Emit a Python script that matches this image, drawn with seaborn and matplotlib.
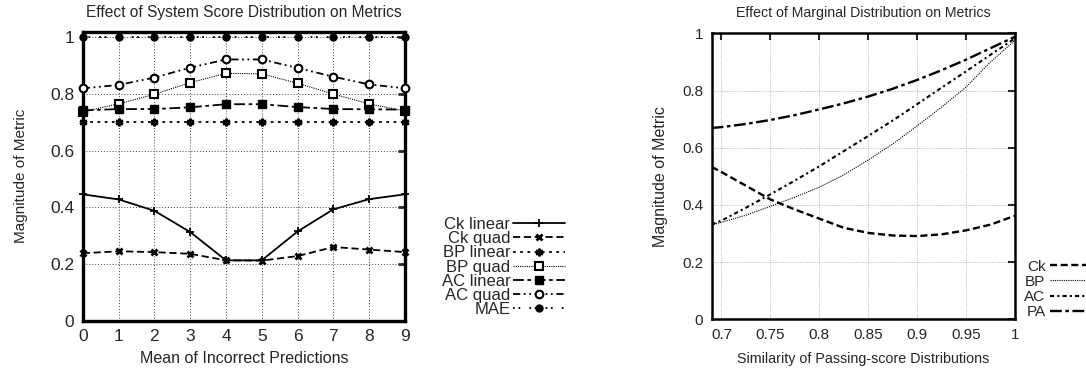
import numpy as np
import pandas as pd
import matplotlib
matplotlib.use("Agg")
import matplotlib.pyplot as plt
import seaborn as sns

# left panel: effect of system score distribution
x_mean = [0, 1, 2, 3, 4, 5, 6, 7, 8, 9]
ck_linear = [0.446, 0.428, 0.388, 0.313, 0.213, 0.213, 0.315, 0.393, 0.429, 0.446]
ck_quad = [0.238, 0.245, 0.242, 0.236, 0.213, 0.212, 0.228, 0.260, 0.251, 0.242]
bp_linear = [0.70, 0.70, 0.70, 0.70, 0.70, 0.70, 0.70, 0.70, 0.70, 0.70]
bp_quad = [0.738, 0.765, 0.799, 0.840, 0.873, 0.871, 0.838, 0.800, 0.765, 0.740]
ac_linear = [0.742, 0.747, 0.747, 0.753, 0.764, 0.764, 0.754, 0.747, 0.746, 0.745]
ac_quad = [0.820, 0.832, 0.858, 0.893, 0.922, 0.922, 0.892, 0.861, 0.834, 0.820]
mae = [1.0, 1.0, 1.0, 1.0, 1.0, 1.0, 1.0, 1.0, 1.0, 1.0]

# right panel: effect of marginal distribution
sim = [0.69, 0.70, 0.725, 0.75, 0.775, 0.80, 0.825, 0.85, 0.875, 0.90, 0.925, 0.95, 0.975, 1.0]
ck = [0.533, 0.515, 0.467, 0.419, 0.384, 0.352, 0.320, 0.302, 0.293, 0.291, 0.297, 0.311, 0.331, 0.362]
bp = [0.330, 0.339, 0.364, 0.395, 0.427, 0.462, 0.505, 0.557, 0.613, 0.676, 0.742, 0.812, 0.900, 0.975]
ac = [0.332, 0.345, 0.390, 0.437, 0.485, 0.535, 0.588, 0.641, 0.695, 0.752, 0.810, 0.867, 0.925, 0.982]
pa = [0.669, 0.672, 0.683, 0.697, 0.714, 0.734, 0.755, 0.779, 0.806, 0.837, 0.871, 0.908, 0.948, 0.988]

sns.set_style("white")
plt.rcParams['font.family'] = ['Liberation Sans', 'DejaVu Sans']

fig = plt.figure(figsize=(10.86, 3.71), dpi=100)
ax1 = fig.add_axes([0.0762, 0.1356, 0.2967, 0.7790])
ax2 = fig.add_axes([0.6553, 0.1394, 0.2793, 0.7708])

left_series = [
    ("Ck linear", ck_linear, dict(linestyle='-', lw=1.3, marker='+', ms=6, mew=1.3, mfc='black')),
    ("Ck quad", ck_quad, dict(linestyle=(0, (4, 2)), lw=1.3, marker='x', ms=4.5, mew=2, mfc='black')),
    ("BP linear", bp_linear, dict(linestyle=(0, (1.5, 2.5)), lw=1.3, marker=(6, 2, 0), ms=5.5, mew=1.8, mfc='black')),
    ("BP quad", bp_quad, dict(linestyle=(0, (1, 1)), lw=0.8, marker='s', ms=5.5, mew=1.5, mfc='white')),
    ("AC linear", ac_linear, dict(linestyle=(0, (6, 2, 2, 2)), lw=1.3, marker='s', ms=5.5, mew=1, mfc='black')),
    ("AC quad", ac_quad, dict(linestyle=(0, (4, 2, 1, 2, 1, 2)), lw=1.3, marker='o', ms=5.5, mew=1.5, mfc='white')),
    ("MAE", mae, dict(linestyle=(0, (1, 2, 1, 5)), lw=1.3, marker='o', ms=5, mew=1, mfc='black')),
]
for name, vals, kw in left_series:
    sns.lineplot(x=x_mean, y=vals, ax=ax1, color='black', mec='black', label=name,
                 errorbar=None, clip_on=False, zorder=3, **kw)

right_series = [
    ("Ck", ck, dict(linestyle=(0, (3, 1.5)), lw=1.7)),
    ("BP", bp, dict(linestyle=(0, (1, 1)), lw=0.8)),
    ("AC", ac, dict(linestyle=(0, (2, 1.5, 1, 1.5)), lw=1.5)),
    ("PA", pa, dict(linestyle=(0, (5, 1.5, 1.5, 1.5)), lw=1.7)),
]
for name, vals, kw in right_series:
    sns.lineplot(x=sim, y=vals, ax=ax2, color='black', label=name, errorbar=None,
                 zorder=3, **kw)

# left axes styling
ax1.set_xlim(0, 9)
ax1.set_ylim(0, 1.02)
ax1.set_xticks(x_mean)
ax1.set_yticks([0, 0.2, 0.4, 0.6, 0.8, 1.0])
ax1.set_yticklabels(["0", "0.2", "0.4", "0.6", "0.8", "1"])
ax1.grid(True, color='0.25', linestyle=(0, (1, 2)), lw=0.7)
for s in ax1.spines.values():
    s.set_linewidth(2.4)
    s.set_color('black')
ax1.tick_params(direction='in', top=True, right=True, length=5, width=2,
                labelsize=12.5, pad=6)
ax1.set_xlabel("Mean of Incorrect Predictions", fontsize=11.5)
ax1.set_ylabel("Magnitude of Metric", fontsize=11)
ax1.xaxis.set_label_coords(0.5, -0.104)
ax1.yaxis.set_label_coords(-0.17, 0.5)
ax1.text(0.5, 1.065, "Effect of System Score Distribution on Metrics",
         transform=ax1.transAxes, ha='center', va='center', fontsize=11.2)

# right axes styling
ax2.set_xlim(0.69, 1.0)
ax2.set_ylim(0, 1)
ax2.set_xticks([0.7, 0.75, 0.8, 0.85, 0.9, 0.95, 1.0])
ax2.set_xticklabels(["0.7", "0.75", "0.8", "0.85", "0.9", "0.95", "1"])
ax2.set_yticks([0, 0.2, 0.4, 0.6, 0.8, 1.0])
ax2.set_yticklabels(["0", "0.2", "0.4", "0.6", "0.8", "1"])
ax2.grid(True, color='0.7', linestyle=(0, (1, 1.5)), lw=0.7)
for s in ax2.spines.values():
    s.set_linewidth(1.8)
    s.set_color('black')
ax2.tick_params(direction='in', top=True, right=True, length=5, width=1.5,
                labelsize=11, pad=6)
ax2.set_xlabel("Similarity of Passing-score Distributions", fontsize=10.3)
ax2.set_ylabel("Magnitude of Metric", fontsize=11.5)
ax2.xaxis.set_label_coords(0.5, -0.115)
ax2.yaxis.set_label_coords(-0.145, 0.5)
ax2.text(0.5, 1.07, "Effect of Marginal Distribution on Metrics",
         transform=ax2.transAxes, ha='center', va='center', fontsize=10.2)


def right_align(leg):
    # put label text flush against the line samples
    try:
        for col in leg._legend_handle_box.get_children():
            col.align = 'right'
    except AttributeError:
        pass


h, l = ax1.get_legend_handles_labels()
leg1 = ax1.legend(h, l, loc='upper right', bbox_to_anchor=(0.5203, 0.415),
                  bbox_transform=fig.transFigure, frameon=False, markerfirst=False,
                  fontsize=12, handlelength=3.1, handletextpad=0.18,
                  labelspacing=-0.05, borderpad=0, borderaxespad=0)
right_align(leg1)

h, l = ax2.get_legend_handles_labels()
leg2 = ax2.legend(h, l, loc='upper right', bbox_to_anchor=(1.0175, 0.3005),
                  bbox_transform=fig.transFigure, frameon=False, markerfirst=False,
                  fontsize=11, handlelength=3.6, handletextpad=0.3,
                  labelspacing=0.08, borderpad=0, borderaxespad=0)
right_align(leg2)

fig.savefig("out.png", dpi=100)
